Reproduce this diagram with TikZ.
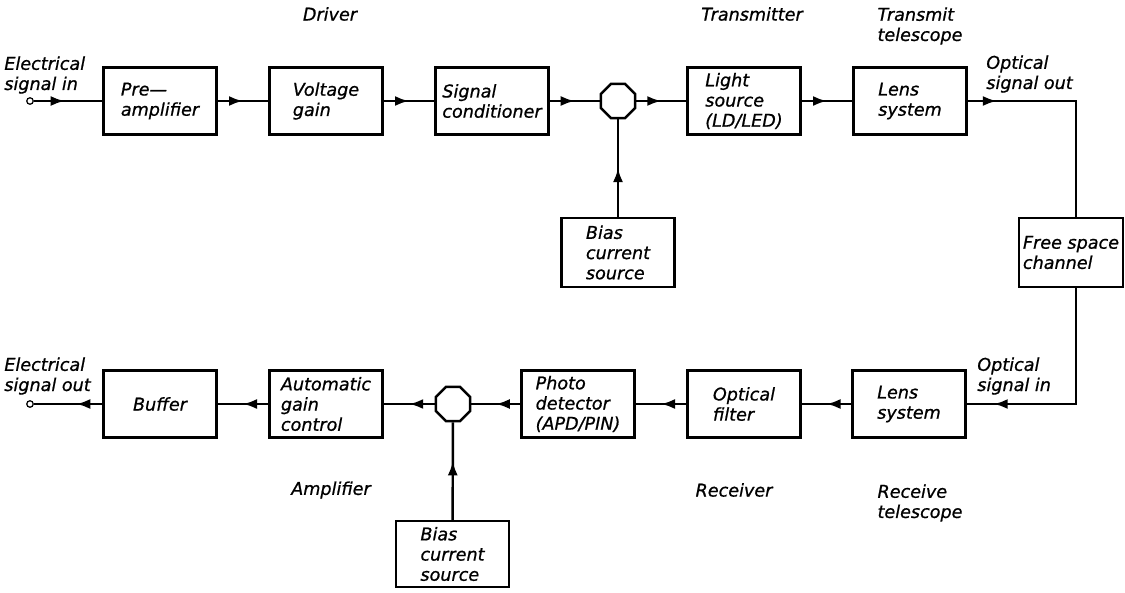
\documentclass[tikz,border=0pt]{standalone}
\usepackage{fontspec}
\setmainfont[ItalicFeatures={FakeBold=0.8}]{DejaVu Sans}
\usetikzlibrary{positioning, shapes.geometric, arrows.meta, decorations.markings}
\tikzset{
  blk/.style={draw, line width=1.4pt, minimum width=2.26cm, minimum height=1.34cm, align=left, inner sep=1pt},
  sumpt/.style={draw, line width=1.4pt, regular polygon, regular polygon sides=8, minimum size=0.74cm, inner sep=0pt},
  lbl/.style={align=left, inner sep=0pt},
  wire/.style={line width=1.4pt},
  flow/.style={wire, postaction={decorate}, decoration={markings, mark=at position #1 with {\arrow{Latex[length=2.8mm,width=2mm]}}}},
  flow/.default=0.5,
  term/.style={circle, draw, line width=0.7pt, minimum size=1.3mm, inner sep=0pt}
}

\begin{document}
\begin{tikzpicture}[x=0.02cm, y=-0.02cm, font=\fontsize{10}{11.5}\selectfont\itshape]
  \useasboundingbox (0,0) rectangle (1125,592);

  % transmit chain
  \node[term] (sin) at (30,101) {};
  \node[blk] (pre) at (160,101) {Pre---\\amplifier};
  \node[blk] (volt) at (326,101) {Voltage\\gain};
  \node[blk] (cond) at (492,101) {Signal\\conditioner};
  \node[sumpt] (sum1) at (618,101) {};
  \node[blk] (light) at (744,101) {Light\\source\\(LD/LED)};
  \node[blk] (lens1) at (910,101) {Lens\\system};
  \node[blk, minimum height=1.38cm] (bias1) at (618,252.5) {Bias\\current\\source};

  % channel
  \node[blk, minimum width=2.08cm, minimum height=1.38cm] (free) at (1071,252.5) {Free space\\channel};
  \coordinate (c1) at (1076,101);
  \coordinate (c2) at (1076,404);

  % receive chain
  \node[blk] (lens2) at (909,404) {Lens\\system};
  \node[blk] (filt) at (744,404) {Optical\\filter};
  \node[blk] (photo) at (578,404) {Photo\\detector\\(APD/PIN)};
  \node[sumpt] (sum2) at (453,404) {};
  \node[blk] (agc) at (326,404) {Automatic\\gain\\control};
  \node[blk] (buf) at (160,404) {Buffer};
  \node[blk, minimum height=1.32cm] (bias2) at (452.5,554) {Bias\\current\\source};
  \node[term] (sout) at (30,404) {};

  % connectors
  \draw[flow=0.45] (sin) -- (pre);
  \draw[flow] (pre) -- (volt);
  \draw[flow] (volt) -- (cond);
  \draw[flow] (cond) -- (sum1);
  \draw[flow] (sum1) -- (light);
  \draw[flow] (light) -- (lens1);
  \draw[flow] (bias1) -- (sum1);
  \draw[flow=0.13] (lens1) -- (c1) -- (c1 |- free.north);
  \draw[flow=0.88] (c1 |- free.south) -- (c2) -- (lens2);
  \draw[flow] (lens2) -- (filt);
  \draw[flow] (filt) -- (photo);
  \draw[flow] (photo) -- (sum2);
  \draw[flow] (sum2) -- (agc);
  \draw[flow] (agc) -- (buf);
  \draw[flow=0.38] (buf) -- (sout);
  \draw[flow=0.6] (bias2) -- (sum2);

  % labels
  \node[lbl, anchor=south west] (lin) at (4,94) {Electrical\\signal in};
  \node[lbl, anchor=south west] (lout) at (4,395) {Electrical\\signal out};
  \node[lbl, anchor=south west] (oout) at (986,93) {Optical\\signal out};
  \node[lbl, anchor=south west] (oin) at (977,395) {Optical\\signal in};
  \node (drv) at (330,14) {Driver};
  \node (tx) at (752,14) {Transmitter};
  \node[lbl] (txt) at (920,26) {Transmit\\telescope};
  \node (amp) at (331,490) {Amplifier};
  \node (rx) at (734,490) {Receiver};
  \node[lbl] (rxt) at (920,503) {Receive\\telescope};
\end{tikzpicture}
\end{document}
